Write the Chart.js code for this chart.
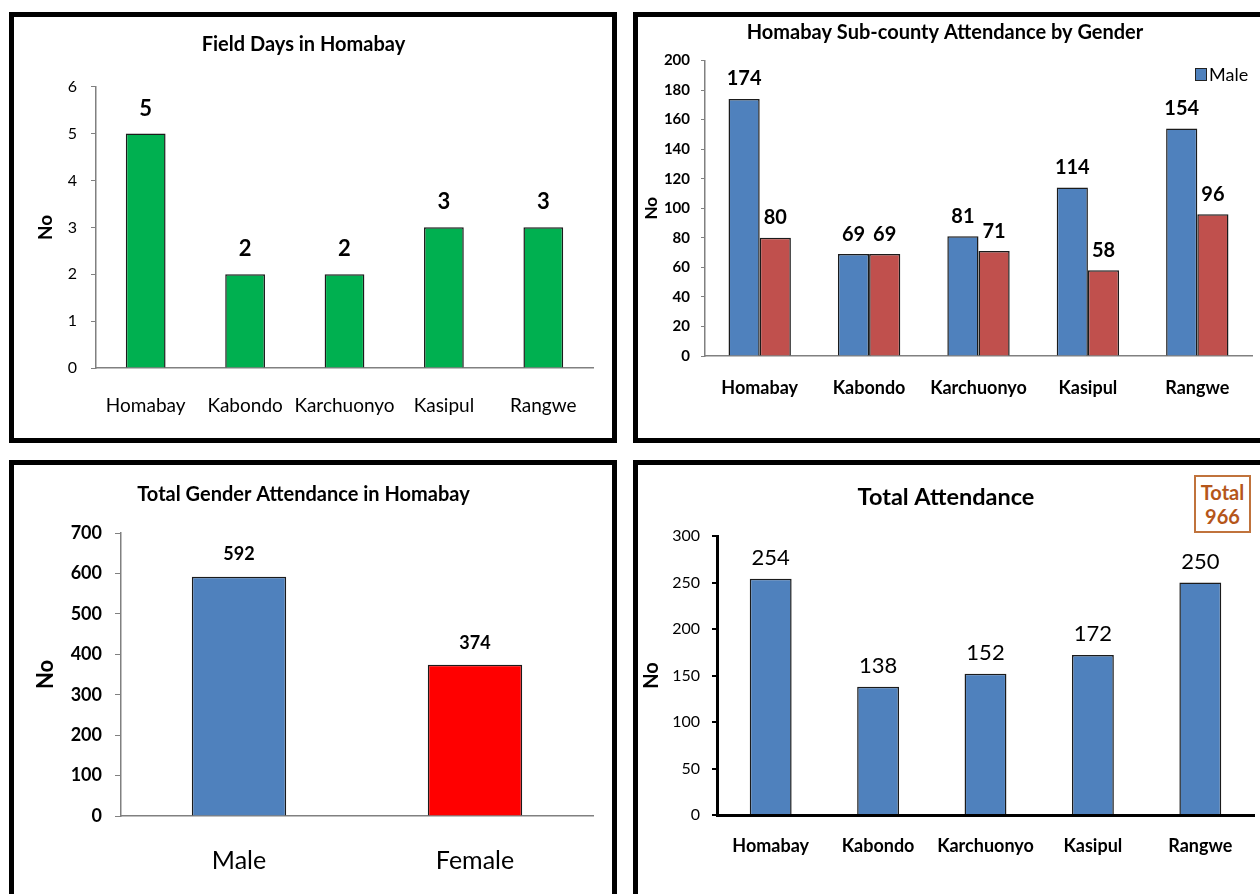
<!DOCTYPE html>
<html>
<head>
<meta charset="utf-8">
<script src="https://cdn.jsdelivr.net/npm/chart.js@4.4.0/dist/chart.umd.min.js"></script>
<style>
  body { margin: 0; width: 1260px; height: 894px; overflow: hidden; background: #fff; position: relative; font-family: Lato, sans-serif; }
  .frame { position: absolute; border: 5px solid #000; box-sizing: border-box; }
  canvas { position: absolute; }
  #legend { position: absolute; left: 1195px; top: 63px; font-size: 18px; color: #000; display: flex; align-items: center; }
  #legend span.box { display: inline-block; width: 10px; height: 11px; background: #4F81BD; border: 1px solid #222; margin-right: 2px; }
  #totalBox { position: absolute; left: 1194px; top: 475px; width: 57px; height: 58px; box-sizing: border-box; border: 2px solid #C0733C; color: #B5561A; font-weight: bold; font-size: 20px; line-height: 24px; text-align: center; padding-top: 3px; background: #fff; }
</style>
</head>
<body>
<div class="frame" style="left:9px;top:12px;width:608px;height:431px"></div>
<div class="frame" style="left:633px;top:12px;width:700px;height:431px"></div>
<div class="frame" style="left:9px;top:460px;width:608px;height:500px"></div>
<div class="frame" style="left:633px;top:460px;width:700px;height:500px"></div>

<canvas id="fieldDaysChart" width="598" height="421" style="left:14px;top:17px"></canvas>
<canvas id="genderByCountyChart" width="622" height="421" style="left:638px;top:17px"></canvas>
<canvas id="genderTotalChart" width="598" height="429" style="left:14px;top:465px"></canvas>
<canvas id="totalChart" width="622" height="429" style="left:638px;top:465px"></canvas>

<div id="legend"><span class="box"></span>Male</div>
<div id="totalBox">Total<br><span id="totalValue"></span></div>

<script>
// data
const subCounties = ['Homabay', 'Kabondo', 'Karchuonyo', 'Kasipul', 'Rangwe'];
const fieldDays = [5, 2, 2, 3, 3];
const maleAttendance = [174, 69, 81, 114, 154];
const femaleAttendance = [80, 69, 71, 58, 96];
const genders = ['Male', 'Female'];
const genderTotals = [592, 374];
const totalAttendance = [254, 138, 152, 172, 250];
const grandTotal = 966;

Chart.defaults.font.family = 'Lato, sans-serif';
Chart.defaults.color = '#000';
Chart.defaults.animation = false;

document.getElementById('totalValue').textContent = grandTotal;

// value labels above each bar
const valueLabels = {
    id: 'valueLabels',
    afterDatasetsDraw(chart, args, opts) {
        const ctx = chart.ctx;
        ctx.save();
        ctx.font = opts.font;
        ctx.fillStyle = '#000';
        ctx.textAlign = 'center';
        ctx.textBaseline = 'middle';
        chart.data.datasets.forEach((ds, i) => {
            chart.getDatasetMeta(i).data.forEach((bar, j) => {
                ctx.fillText(ds.data[j], bar.x, bar.y - opts.offset);
            });
        });
        ctx.restore();
    }
};

function makeChart(id, s) {
    return new Chart(document.getElementById(id), {
        type: 'bar',
        data: { labels: s.labels, datasets: s.datasets },
        plugins: [valueLabels],
        options: {
            responsive: false,
            devicePixelRatio: 1,
            layout: { padding: { left: 0, right: s.padRight, top: 0, bottom: 0 } },
            plugins: {
                legend: { display: false },
                tooltip: { enabled: false },
                title: {
                    display: true,
                    text: s.title,
                    color: '#000',
                    font: { size: s.titleSize, weight: 'bold' },
                    padding: { top: s.titleTop, bottom: s.titleBottom }
                },
                valueLabels: { font: s.valueFont, offset: s.valueOffset }
            },
            scales: {
                x: {
                    grid: { display: false },
                    border: { display: true, color: s.axisColor, width: s.axisWidth },
                    ticks: { autoSkip: false, padding: s.xPad, font: { size: s.xSize, weight: s.xWeight }, color: '#000', maxRotation: 0 },
                    afterFit: sc => { sc.height = s.xHeight; }
                },
                y: {
                    min: 0, max: s.yMax,
                    grid: { drawOnChartArea: false, drawTicks: true, tickLength: s.tickLen, color: s.axisColor, lineWidth: s.axisWidth > 1.5 ? 2 : 1 },
                    border: { display: true, color: s.axisColor, width: s.axisWidth },
                    ticks: { stepSize: s.yStep, padding: s.yPad, font: { size: s.ySize, weight: s.yWeight }, color: '#000' },
                    title: { display: true, text: 'No', color: '#000', font: { size: s.noSize, weight: 'bold' }, padding: { top: s.noPad } },
                    afterFit: sc => { sc.width = s.yWidth; }
                }
            }
        }
    });
}

makeChart('fieldDaysChart', {
    labels: subCounties,
    datasets: [{ data: fieldDays, backgroundColor: '#00B050', borderColor: '#1b1b1b', borderWidth: 1.5, barPercentage: 0.4, categoryPercentage: 1 }],
    title: 'Field Days in Homabay', titleSize: 20, titleTop: 16, titleBottom: 29.7,
    padRight: 19, yWidth: 82, xHeight: 70,
    yMax: 6, yStep: 1, ySize: 16, yWeight: 'normal', yPad: 14, tickLen: 5,
    xSize: 19, xWeight: 'normal', xPad: 18.5,
    axisColor: '#808080', axisWidth: 1.5,
    noSize: 19, noPad: 20,
    valueFont: 'bold 22px Lato', valueOffset: 25
});

makeChart('genderByCountyChart', {
    labels: subCounties,
    datasets: [
        { label: 'Male', data: maleAttendance, backgroundColor: '#4F81BD', borderColor: '#1b1b1b', borderWidth: 1.5, barPercentage: 1, categoryPercentage: 0.57 },
        { label: 'Female', data: femaleAttendance, backgroundColor: '#C0504D', borderColor: '#1b1b1b', borderWidth: 1.5, barPercentage: 1, categoryPercentage: 0.57 }
    ],
    title: 'Homabay Sub-county Attendance by Gender', titleSize: 20, titleTop: 4, titleBottom: 15.5,
    padRight: 8, yWidth: 67, xHeight: 82,
    yMax: 200, yStep: 20, ySize: 15, yWeight: 'bold', yPad: 11, tickLen: 4,
    xSize: 18, xWeight: 'bold', xPad: 13.5,
    axisColor: '#808080', axisWidth: 1.5,
    noSize: 17, noPad: 3,
    valueFont: 'bold 20px Lato', valueOffset: 20
});

makeChart('genderTotalChart', {
    labels: genders,
    datasets: [{ data: genderTotals, backgroundColor: ['#4F81BD', '#FF0000'], borderColor: '#1b1b1b', borderWidth: 1.5, barPercentage: 0.4, categoryPercentage: 1 }],
    title: 'Total Gender Attendance in Homabay', titleSize: 20, titleTop: 18, titleBottom: 26,
    padRight: 19, yWidth: 107, xHeight: 78,
    yMax: 700, yStep: 100, ySize: 18, yWeight: 'bold', yPad: 13, tickLen: 6,
    xSize: 25, xWeight: 'normal', xPad: 22.4,
    axisColor: '#808080', axisWidth: 1.5,
    noSize: 22, noPad: 19,
    valueFont: 'bold 18px Lato', valueOffset: 22
});

makeChart('totalChart', {
    labels: subCounties,
    datasets: [{ data: totalAttendance, backgroundColor: '#4F81BD', borderColor: '#1b1b1b', borderWidth: 1.5, barPercentage: 0.39, categoryPercentage: 1 }],
    title: 'Total Attendance', titleSize: 23.5, titleTop: 17.9, titleBottom: 24.9,
    padRight: 6, yWidth: 79, xHeight: 79,
    yMax: 300, yStep: 50, ySize: 16, yWeight: 'normal', yPad: 12, tickLen: 5,
    xSize: 18, xWeight: 'bold', xPad: 12.4,
    axisColor: '#000', axisWidth: 3,
    noSize: 20, noPad: 2,
    valueFont: '22px Lato', valueOffset: 21
});
</script>
</body>
</html>
